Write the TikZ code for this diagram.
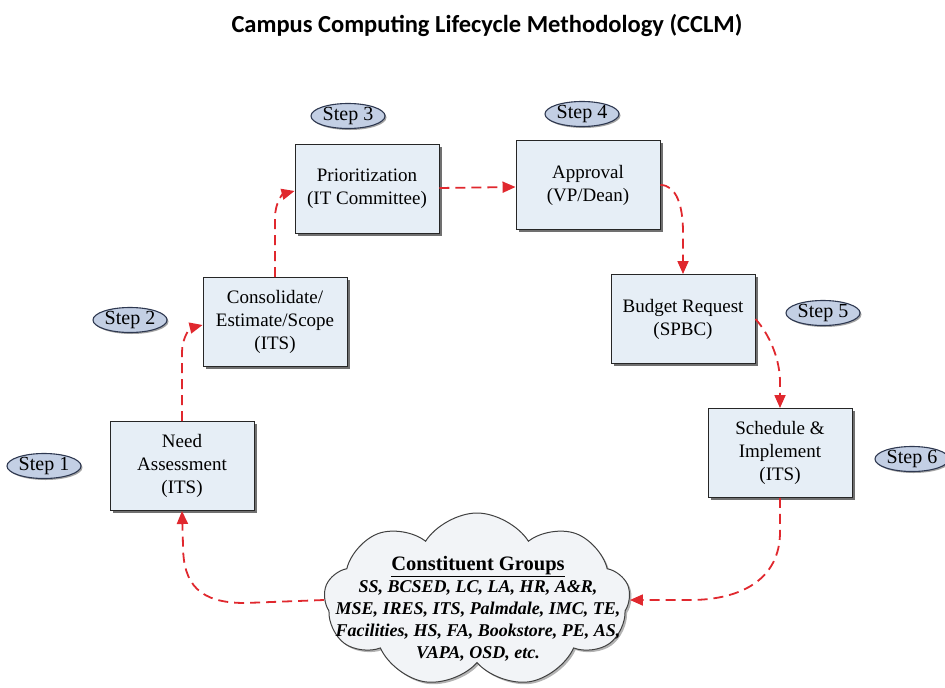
\documentclass[tikz,border=0pt]{standalone}
\usepackage{fontspec}
\setmainfont{Liberation Serif}
\newfontfamily\titlefont{Carlito}
\usetikzlibrary{arrows.meta,shapes.symbols,shapes.geometric,shadows}
\definecolor{boxfill}{HTML}{E6EEF6}
\definecolor{stepfill}{HTML}{C3CFE4}
\definecolor{stepdraw}{HTML}{2E3850}
\definecolor{flowred}{HTML}{E0282E}
\definecolor{cloudfill}{HTML}{F2F4F7}
\begin{document}
\begin{tikzpicture}[x=1pt,y=-1pt,
  procbox/.style={draw=black!85, line width=0.9pt, fill=boxfill,
    minimum width=144pt, minimum height=89pt, inner sep=2pt, align=center,
    font=\fontsize{19}{23}\selectfont,
    drop shadow={shadow xshift=2.5pt,shadow yshift=-2.5pt,fill=black!70,opacity=0.8}},
  steplbl/.style={ellipse, draw=stepdraw, line width=1.1pt, fill=stepfill,
    minimum width=74pt, minimum height=25pt, inner sep=0pt,
    font=\fontsize{20}{22}\selectfont,
    drop shadow={shadow xshift=1.5pt,shadow yshift=-1.5pt,fill=black!60,opacity=0.6}},
  flow/.style={draw=flowred, line width=1.8pt, dash pattern=on 10pt off 6pt,
    -{Triangle[length=13pt,width=11pt,fill=flowred]}},
]
\useasboundingbox (0,0) rectangle (945,688);

\node[font=\titlefont\bfseries\fontsize{24.5}{28}\selectfont] (title) at (487,25) {Campus Computing Lifecycle Methodology (CCLM)};

\node[procbox] (na) at (182,466) {Need\\Assessment\\(ITS)};
\node[procbox] (cs) at (275,322) {Consolidate/\\Estimate/Scope\\(ITS)};
\node[procbox] (pr) at (367,189) {Prioritization\\(IT Committee)};
\node[procbox] (ap) at (588,185) {Approval\\(VP/Dean)};
\node[procbox] (br) at (683,319) {Budget Request\\(SPBC)};
\node[procbox] (si) at (780,453) {Schedule \&\\Implement\\(ITS)};

\node[steplbl] (s1) at (44,466) {Step 1};
\node[steplbl] (s2) at (130,320) {Step 2};
\node[steplbl] (s3) at (348,116) {Step 3};
\node[steplbl] (s4) at (582,114) {Step 4};
\node[steplbl] (s5) at (823,313) {Step 5};
\node[steplbl] (s6) at (912,459) {Step 6};

\node[cloud, cloud puffs=9, cloud puff arc=115, aspect=1.75,
  minimum width=306pt, minimum height=174pt, draw=black!75, line width=1pt,
  fill=cloudfill, drop shadow={shadow xshift=2pt,shadow yshift=-2pt,fill=black!50,opacity=0.6}]
  (cg) at (477,600) {};
\node[align=center, font=\fontsize{18}{22}\selectfont] (cgt) at (478,609)
  {{\fontsize{20.5}{22}\selectfont\textbf{\underline{Constituent Groups}}}\\
   \textbf{\textit{SS, BCSED, LC, LA, HR, A\&R,}}\\
   \textbf{\textit{MSE, IRES, ITS, Palmdale, IMC, TE,}}\\
   \textbf{\textit{Facilities, HS, FA, Bookstore, PE, AS,}}\\
   \textbf{\textit{VAPA, OSD, etc.}}};

\draw[flow] (cg.west) -- (245,603) .. controls (200,603) and (183,585) .. (183,545) -- (na.south);
\draw[flow] (na.north) -- (182,352) .. controls (182,338) and (190,328) .. ([yshift=-3pt]cs.west);
\draw[flow] (cs.north) -- (275,218) .. controls (275,202) and (283,194) .. ([yshift=-2pt]pr.west);
\draw[flow] ([yshift=1pt]pr.east) -- ([yshift=-2pt]ap.west);
\draw[flow] (ap.east) .. controls (676,185) and (683,205) .. (683,232) -- (br.north);
\draw[flow] (br.east) .. controls (770,335) and (780,360) .. (780,382) -- (si.north);
\draw[flow] (si.south) -- (780,532) .. controls (780,580) and (740,600) .. (690,600) -- (cg.east);
\end{tikzpicture}
\end{document}
